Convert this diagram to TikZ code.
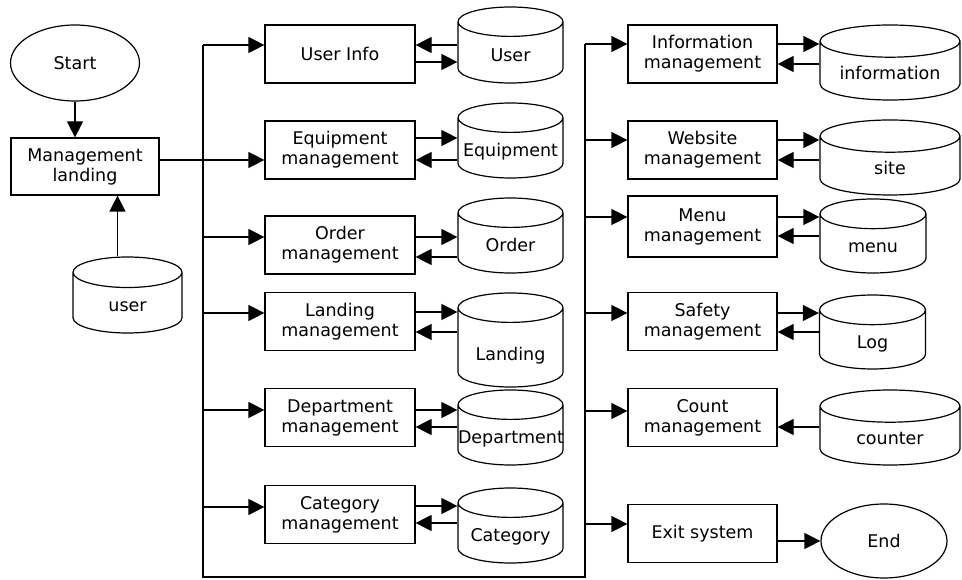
\documentclass[tikz,border=0pt]{standalone}
\usepackage{fontspec}
\setmainfont{DejaVu Sans}
\usetikzlibrary{arrows.meta,shapes.geometric}

\tikzset{
  proc/.style={draw, line width=1.2pt, minimum width=150pt, minimum height=58pt, inner sep=0pt, align=center},
  store/.style={draw, cylinder, shape border rotate=90, aspect=0.28, anchor=shape center, line width=1.2pt, minimum width=#1, text width=#1, align=center, minimum height=75pt, inner sep=0pt, text height=21pt, text depth=4pt},
  store/.default=105pt,
  term/.style={draw, ellipse, line width=1.2pt, inner sep=0pt},
  flow/.style={line width=1.2pt, -{Triangle[length=16pt,width=16pt]}},
}

\begin{document}
\begin{tikzpicture}[x=1pt, y=-1pt, font=\fontsize{17.5}{20}\selectfont]
\useasboundingbox (0,0) rectangle (962,580);

% login part
\node[term, minimum width=129pt, minimum height=76pt] (start) at (75,63) {Start};
\node[proc, minimum width=148pt, minimum height=57pt] (mgmt) at (85,166.5) {Management\\landing};
\node[store=109pt, minimum height=76pt] (userdb) at (127.5,295) {user};

\draw[flow] (start.south) -- (start.south |- mgmt.north);
\draw[flow] ([xshift=-10pt]userdb.north) -- ([xshift=-10pt]userdb.north |- mgmt.south);

% left column
\node[proc] (ui) at (340,54) {User Info};
\node[proc] (eq) at (340,150) {Equipment\\management};
\node[proc] (ord) at (340,245) {Order\\management};
\node[proc] (land) at (340,321.5) {Landing\\management};
\node[proc] (dept) at (340,417.5) {Department\\management};
\node[proc] (cat) at (340,514.5) {Category\\management};

\node[store, minimum height=76pt] (uidb) at (510.5,45) {User};
\node[store] (eqdb) at (510.5,140.5) {Equipment};
\node[store] (orddb) at (510.5,235.5) {Order};
\node[store, minimum height=94pt, text height=30pt] (landdb) at (510.5,340) {Landing};
\node[store] (deptdb) at (510.5,427.5) {Department};
\node[store] (catdb) at (510.5,525.5) {Category};

% right column
\node[proc, minimum width=149pt] (info) at (702.5,54) {Information\\management};
\node[proc, minimum width=149pt] (web) at (702.5,150) {Website\\management};
\node[proc, minimum width=149pt, minimum height=61pt] (menu) at (702.5,226.5) {Menu\\management};
\node[proc, minimum width=149pt] (safe) at (702.5,321.5) {Safety\\management};
\node[proc, minimum width=149pt] (count) at (702.5,417.5) {Count\\management};
\node[proc, minimum width=149pt] (exit) at (702.5,533.5) {Exit system};

\node[store=140pt, aspect=0.23] (infodb) at (890,62.5) {information};
\node[store=140pt, aspect=0.23] (sitedb) at (890,157.5) {site};
\node[store=106pt, minimum height=74pt] (menudb) at (873,236) {menu};
\node[store=106pt, minimum height=74pt] (logdb) at (872.5,332) {Log};
\node[store=140pt, aspect=0.23] (countdb) at (890,427.5) {counter};
\node[term, minimum width=126pt, minimum height=74pt] (end) at (884,541) {End};

% bus lines
\coordinate (lbus top) at (203,45);
\coordinate (rbus top) at (585,44);
\draw[line width=1.2pt] (lbus top) -- (203,577) -- (585,577) -- (rbus top);

\draw[flow] ([yshift=6.5pt]mgmt.east) -- ([yshift=6.5pt]mgmt.east -| eq.west);
\draw[flow] (lbus top) -- (lbus top -| ui.west);
\draw[flow] ([yshift=8pt]ord.west -| lbus top) -- ([yshift=8pt]ord.west);
\draw[flow] ([yshift=8.5pt]land.west -| lbus top) -- ([yshift=8.5pt]land.west);
\draw[flow] ([yshift=7.5pt]dept.west -| lbus top) -- ([yshift=7.5pt]dept.west);
\draw[flow] ([yshift=7.5pt]cat.west -| lbus top) -- ([yshift=7.5pt]cat.west);

\draw[flow] (rbus top) -- (rbus top -| info.west);
\draw[flow] ([yshift=10pt]web.west -| rbus top) -- ([yshift=10pt]web.west);
\draw[flow] ([yshift=9.5pt]menu.west -| rbus top) -- ([yshift=9.5pt]menu.west);
\draw[flow] ([yshift=8.5pt]safe.west -| rbus top) -- ([yshift=8.5pt]safe.west);
\draw[flow] ([yshift=6.5pt]count.west -| rbus top) -- ([yshift=6.5pt]count.west);
\draw[flow] ([yshift=9.5pt]exit.west -| rbus top) -- ([yshift=9.5pt]exit.west);

% reads and writes
\draw[flow] ([yshift=9pt]ui.east -| uidb.west) -- ([yshift=9pt]ui.east);
\draw[flow] ([yshift=-8pt]ui.east) -- ([yshift=-8pt]ui.east -| uidb.west);
\draw[flow] ([yshift=12pt]eq.east) -- ([yshift=12pt]eq.east -| eqdb.west);
\draw[flow] ([yshift=-10pt]eq.east -| eqdb.west) -- ([yshift=-10pt]eq.east);
\draw[flow] ([yshift=8pt]ord.east) -- ([yshift=8pt]ord.east -| orddb.west);
\draw[flow] ([yshift=-12pt]ord.east -| orddb.west) -- ([yshift=-12pt]ord.east);
\draw[flow] ([yshift=9.5pt]land.east) -- ([yshift=9.5pt]land.east -| landdb.west);
\draw[flow] ([yshift=-10.5pt]land.east -| landdb.west) -- ([yshift=-10.5pt]land.east);
\draw[flow] ([yshift=7.5pt]dept.east) -- ([yshift=7.5pt]dept.east -| deptdb.west);
\draw[flow] ([yshift=-9.5pt]dept.east -| deptdb.west) -- ([yshift=-9.5pt]dept.east);
\draw[flow] ([yshift=8.5pt]cat.east) -- ([yshift=8.5pt]cat.east -| catdb.west);
\draw[flow] ([yshift=-8.5pt]cat.east -| catdb.west) -- ([yshift=-8.5pt]cat.east);

\draw[flow] ([yshift=10pt]info.east) -- ([yshift=10pt]info.east -| infodb.west);
\draw[flow] ([yshift=-10pt]info.east -| infodb.west) -- ([yshift=-10pt]info.east);
\draw[flow] ([yshift=10pt]web.east) -- ([yshift=10pt]web.east -| sitedb.west);
\draw[flow] ([yshift=-10pt]web.east -| sitedb.west) -- ([yshift=-10pt]web.east);
\draw[flow] ([yshift=9.5pt]menu.east) -- ([yshift=9.5pt]menu.east -| menudb.west);
\draw[flow] ([yshift=-9.5pt]menu.east -| menudb.west) -- ([yshift=-9.5pt]menu.east);
\draw[flow] ([yshift=8.5pt]safe.east) -- ([yshift=8.5pt]safe.east -| logdb.west);
\draw[flow] ([yshift=-10.5pt]safe.east -| logdb.west) -- ([yshift=-10.5pt]safe.east);
\draw[flow] ([yshift=-9.5pt]count.east -| countdb.west) -- ([yshift=-9.5pt]count.east);
\draw[flow] (exit.east |- end.west) -- (end.west);

\end{tikzpicture}
\end{document}
